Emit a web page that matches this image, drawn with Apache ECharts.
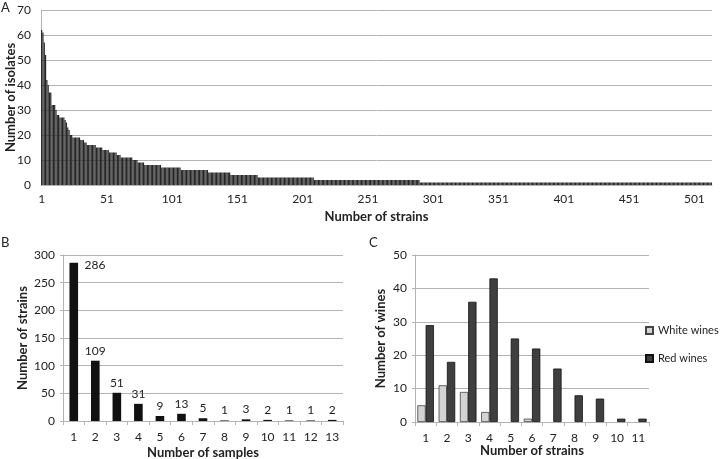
<!DOCTYPE html>
<html>
<head>
<meta charset="utf-8">
<script src="https://cdn.jsdelivr.net/npm/echarts@6/dist/echarts.min.js"></script>
<style>
html,body{margin:0;padding:0;background:#fff;}
#chart{width:720px;height:459px;}
</style>
</head>
<body>
<div id="chart"></div>
<script>
// Panel A: rank-abundance (isolates per strain), run-length
const panelA_levels = [62,61,57,52,42,40,37,32,30,28,27,26,25,23,22,20,19,18,17,16,15,14,13,12,11,10,9,8,7,6,5,4,3,2,1];
const panelA_runs   = [1,1,1,1,1,1,2,3,1,2,4,1,1,1,1,2,6,3,2,7,5,5,6,3,9,4,5,13,15,21,17,21,43,81,224];
const panelA_tickLabels = ['1','51','101','151','201','251','301','351','401','451','501'];

// Panel B
const panelB_categories = ['1','2','3','4','5','6','7','8','9','10','11','12','13'];
const panelB_values = [286,109,51,31,9,13,5,1,3,2,1,1,2];

// Panel C
const panelC_categories = ['1','2','3','4','5','6','7','8','9','10','11'];
const panelC_white = [5,11,9,3,0,1,0,0,0,0,0];
const panelC_red = [29,18,36,43,25,22,16,8,7,1,1];

const FONT = 'Lato, "Liberation Sans", sans-serif';
const TXT = '#222';
const GRID = '#b4b4b4';

const aValues = [];
panelA_levels.forEach((v, i) => { for (let k = 0; k < panelA_runs[i]; k++) aValues.push(v); });
const aCats = aValues.map((_, i) => String(i + 1));
const hideZero = arr => arr.map(v => v === 0 ? '-' : v);

const chart = echarts.init(document.getElementById('chart'));
const axisLbl = {color: TXT, fontFamily: FONT, fontSize: 12};
const nameStyle = {color: TXT, fontFamily: FONT, fontSize: 13, fontWeight: 'bold'};

chart.setOption({
  animation: false,
  textStyle: {fontFamily: FONT},
  grid: [
    {left: 41, right: 8, top: 10, height: 175, outerBoundsMode: 'none', containLabel: false},
    {left: 63, width: 280, top: 255, height: 166, outerBoundsMode: 'none', containLabel: false},
    {left: 415, width: 234, top: 255, height: 167, outerBoundsMode: 'none', containLabel: false}
  ],
  legend: {
    data: ['White wines', 'Red wines'],
    orient: 'vertical', left: 640, top: 320,
    itemWidth: 7, itemHeight: 7, itemGap: 17,
    icon: 'rect',
    textStyle: {color: TXT, fontFamily: FONT, fontSize: 11},
    selectedMode: false
  },
  graphic: [
    {type: 'text', left: 1, top: 1, style: {text: 'A', fontSize: 13, fill: TXT, fontFamily: FONT}},
    {type: 'text', left: 1, top: 236, style: {text: 'B', fontSize: 13, fill: TXT, fontFamily: FONT}},
    {type: 'text', left: 369, top: 236, style: {text: 'C', fontSize: 13, fill: TXT, fontFamily: FONT}}
  ],
  xAxis: [
    {gridIndex: 0, type: 'category', data: aCats,
     axisLine: {lineStyle: {color: GRID}}, axisTick: {show: false},
     axisLabel: Object.assign({}, axisLbl, {interval: (i, v) => panelA_tickLabels.indexOf(v) >= 0, margin: 8}),
     name: 'Number of strains', nameLocation: 'middle', nameGap: 25, nameMoveOverlap: false, nameTextStyle: nameStyle},
    {gridIndex: 1, type: 'category', data: panelB_categories,
     axisLine: {lineStyle: {color: GRID}}, axisTick: {show: true, length: 4, lineStyle: {color: GRID}},
     axisLabel: Object.assign({}, axisLbl, {margin: 10}),
     name: 'Number of samples', nameLocation: 'middle', nameGap: 25, nameMoveOverlap: false, nameTextStyle: nameStyle},
    {gridIndex: 2, type: 'category', data: panelC_categories,
     axisLine: {lineStyle: {color: GRID}}, axisTick: {show: true, length: 4, lineStyle: {color: GRID}},
     axisLabel: Object.assign({}, axisLbl, {margin: 10}),
     name: 'Number of strains', nameLocation: 'middle', nameGap: 22, nameMoveOverlap: false, nameTextStyle: nameStyle}
  ],
  yAxis: [
    {gridIndex: 0, type: 'value', min: 0, max: 70, interval: 10,
     axisLine: {show: true, lineStyle: {color: GRID}}, axisTick: {show: false},
     splitLine: {lineStyle: {color: GRID}}, axisLabel: Object.assign({}, axisLbl, {margin: 10}),
     name: 'Number of isolates', nameLocation: 'middle', nameRotate: 90, nameGap: 24, nameMoveOverlap: false, nameTextStyle: nameStyle},
    {gridIndex: 1, type: 'value', min: 0, max: 300, interval: 50,
     axisLine: {show: true, lineStyle: {color: GRID}}, axisTick: {show: true, length: 3, lineStyle: {color: GRID}},
     splitLine: {lineStyle: {color: GRID}}, axisLabel: Object.assign({}, axisLbl, {margin: 8}),
     name: 'Number of strains', nameLocation: 'middle', nameRotate: 90, nameGap: 34, nameMoveOverlap: false, nameTextStyle: nameStyle},
    {gridIndex: 2, type: 'value', min: 0, max: 50, interval: 10,
     axisLine: {show: true, lineStyle: {color: GRID}}, axisTick: {show: true, length: 3, lineStyle: {color: GRID}},
     splitLine: {lineStyle: {color: GRID}}, axisLabel: Object.assign({}, axisLbl, {margin: 8}),
     name: 'Number of wines', nameLocation: 'middle', nameRotate: 90, nameGap: 28, nameMoveOverlap: false, nameTextStyle: nameStyle}
  ],
  series: [
    {type: 'bar', xAxisIndex: 0, yAxisIndex: 0, data: aValues, barCategoryGap: '8%',
     itemStyle: {color: '#262626'}},
    {type: 'bar', xAxisIndex: 1, yAxisIndex: 1, barWidth: '40%',
     data: panelB_values.map((v, i) => i === 0
       ? {value: v, label: {position: ['175%', -4]}}
       : v),
     itemStyle: {color: '#111'},
     label: {show: true, position: 'top', distance: 4, color: TXT, fontFamily: FONT, fontSize: 12}},
    {name: 'White wines', type: 'bar', xAxisIndex: 2, yAxisIndex: 2, data: hideZero(panelC_white),
     barGap: '0%', barCategoryGap: '22%',
     itemStyle: {color: '#d3d3d3', borderColor: '#444', borderWidth: 0.8}},
    {name: 'Red wines', type: 'bar', xAxisIndex: 2, yAxisIndex: 2, data: hideZero(panelC_red),
     barGap: '0%', barCategoryGap: '22%',
     itemStyle: {color: '#3f3f3f', borderColor: '#111', borderWidth: 0.8}}
  ]
});
</script>
</body>
</html>
